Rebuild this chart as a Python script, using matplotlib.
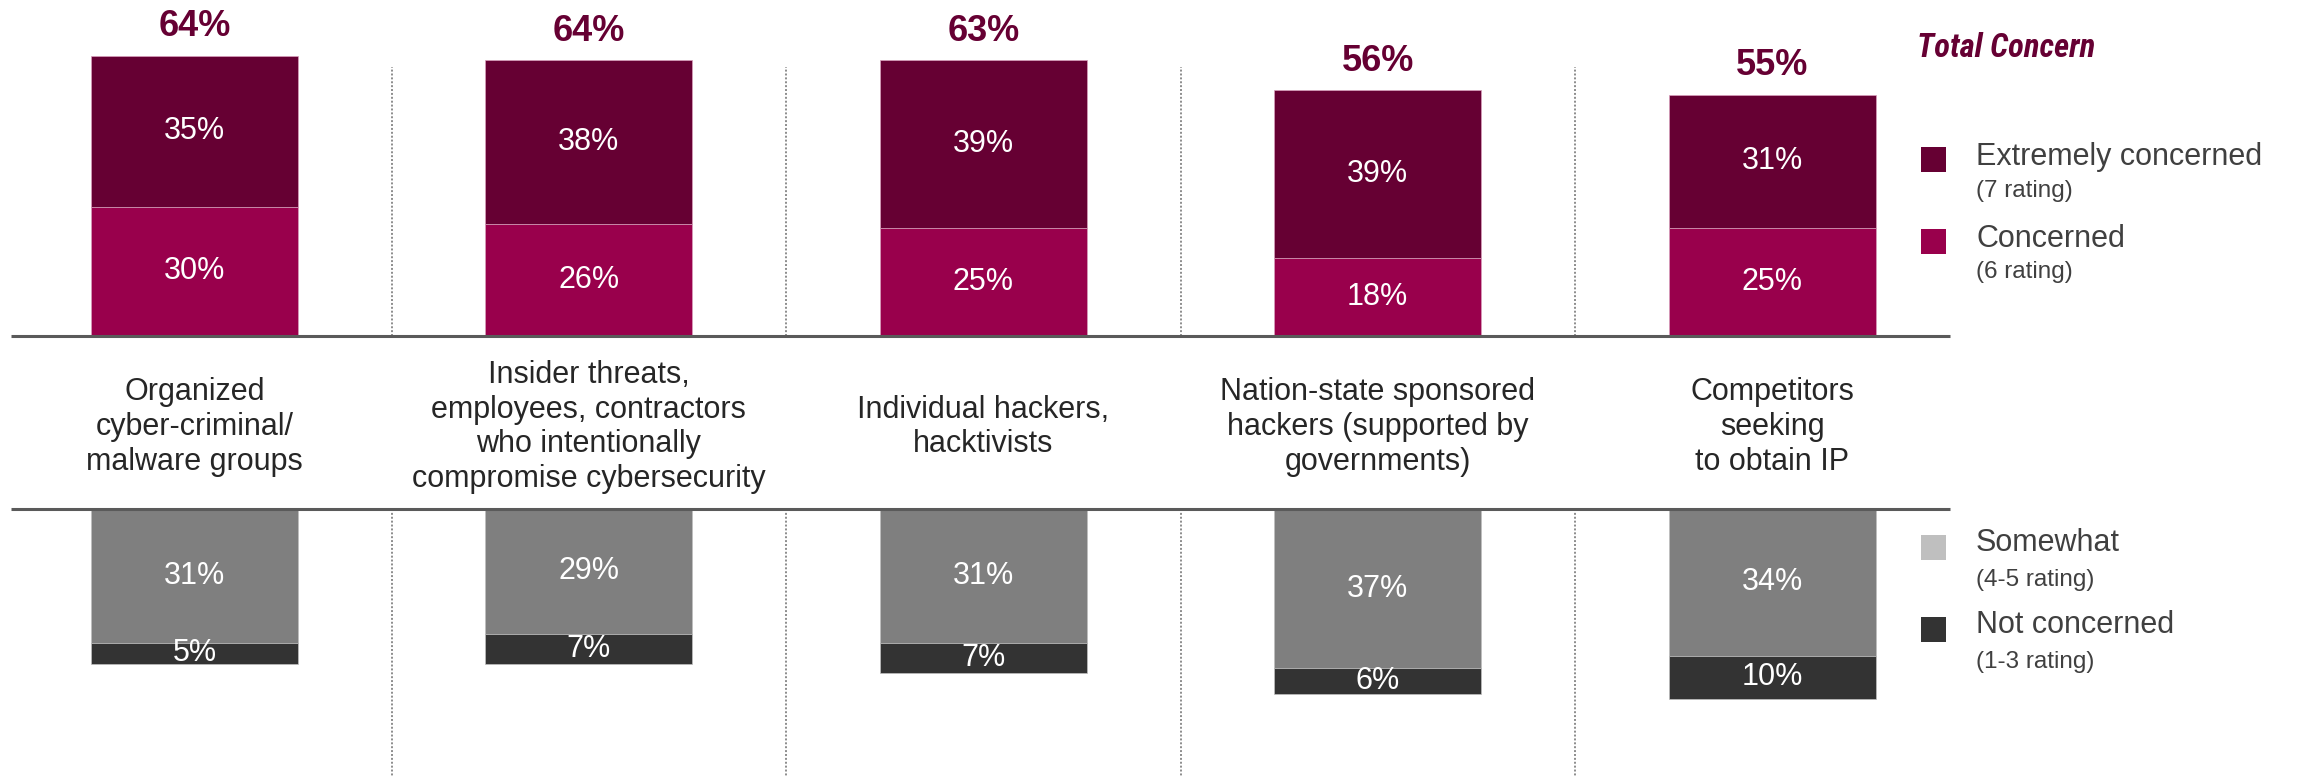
import matplotlib
matplotlib.use('Agg')
import matplotlib.pyplot as plt
import matplotlib.transforms as mtransforms
from matplotlib.patches import Rectangle

plt.rcParams['font.family'] = ['Liberation Sans', 'DejaVu Sans']

# data
categories = [
    'Organized\ncyber-criminal/\nmalware groups',
    'Insider threats,\nemployees, contractors\nwho intentionally\ncompromise cybersecurity',
    'Individual hackers,\nhacktivists',
    'Nation-state sponsored\nhackers (supported by\ngovernments)',
    'Competitors\nseeking\nto obtain IP',
]
extremely = [35, 38, 39, 39, 31]
concerned = [30, 26, 25, 18, 25]
total_concern = [64, 64, 63, 56, 55]
somewhat = [31, 29, 31, 37, 34]
not_concerned = [5, 7, 7, 6, 10]

C_EXT = '#660033'
C_CON = '#99004C'
C_SOME = '#7F7F7F'
C_NOT = '#333333'
C_SOME_LEG = '#BFBFBF'
C_LINE = '#5A5A5A'
C_SEP = '#8C8C8C'
C_TXT = '#262626'
C_LEG = '#404040'

W, H = 2299, 777
fig = plt.figure(figsize=(W / 100, H / 100), dpi=100)

k = 4.31          # pixels per percent point
x0_px = 194.5     # centre of first bar
step_px = 394.4   # distance between bars
top_base = 336    # upper baseline, px from top
bot_base = 509    # lower baseline, px from top

xlim = (-x0_px / step_px, (W - x0_px) / step_px)
bar_w = 207 / step_px

ax_top = fig.add_axes([0, (H - top_base) / H, 1, top_base / H])
ax_bot = fig.add_axes([0, 0, 1, (H - bot_base) / H])
ax_top.set_ylim(0, top_base / k)
ax_bot.set_ylim(-(H - bot_base) / k, 0)
for ax in (ax_top, ax_bot):
    ax.set_xlim(*xlim)
    ax.axis('off')

x = list(range(len(categories)))

# upper bars (concern)
ax_top.bar(x, concerned, width=bar_w, color=C_CON, edgecolor='#D9A0BC', linewidth=0.5)
ax_top.bar(x, extremely, width=bar_w, bottom=concerned, color=C_EXT, edgecolor='#D9A0BC', linewidth=0.5)

# lower bars
neg_some = [-v for v in somewhat]
neg_not = [-v for v in not_concerned]
ax_bot.bar(x, neg_some, width=bar_w, color=C_SOME, edgecolor='#BFBFBF', linewidth=0.5)
ax_bot.bar(x, neg_not, width=bar_w, bottom=neg_some, color=C_NOT, edgecolor='#BFBFBF', linewidth=0.5)

for i in x:
    ax_top.text(i, concerned[i] / 2, f'{concerned[i]}%', ha='center', va='center',
                color='white', fontsize=22)
    ax_top.text(i, concerned[i] + extremely[i] / 2, f'{extremely[i]}%', ha='center',
                va='center', color='white', fontsize=22)
    ax_top.annotate(f'{total_concern[i]}%', (i, concerned[i] + extremely[i]),
                    xytext=(0, 14), textcoords='offset points', ha='center',
                    va='baseline', color=C_EXT, fontsize=26, fontweight='bold')
    ax_bot.text(i, -somewhat[i] / 2, f'{somewhat[i]}%', ha='center', va='center',
                color='white', fontsize=22)
    ax_bot.text(i, -somewhat[i] - not_concerned[i] / 2, f'{not_concerned[i]}%',
                ha='center', va='center', color='white', fontsize=22)

# baselines
line_x = [(11 - x0_px) / step_px, (1950 - x0_px) / step_px]
ax_top.plot(line_x, [0, 0], color=C_LINE, lw=2.2, clip_on=False, solid_capstyle='butt')
ax_bot.plot(line_x, [0, 0], color=C_LINE, lw=2.2, clip_on=False, solid_capstyle='butt')

# dotted separators
sep_top = (H - 67 - (H - top_base)) / k
for i in range(len(categories) - 1):
    ax_top.plot([i + 0.5, i + 0.5], [0, sep_top], color=C_SEP, lw=1.4,
                linestyle=(0, (1, 1)), zorder=0)
    ax_bot.plot([i + 0.5, i + 0.5], [0, ax_bot.get_ylim()[0]], color=C_SEP, lw=1.4,
                linestyle=(0, (1, 1)), zorder=0)

# category labels between the two panels
trans = mtransforms.blended_transform_factory(ax_top.transData, fig.transFigure)
for i, lab in enumerate(categories):
    fig.text(i, (H - 427) / H, lab, transform=trans, ha='center', va='center',
             fontsize=22, color=C_TXT, linespacing=1.2, multialignment='center')


# legend, drawn by hand
def fx(px):
    return px / W


def fy(py):
    return (H - py) / H


fig.text(fx(1917), fy(48), 'Total Concern', ha='left', va='center', fontsize=23.5,
         fontweight='bold', fontstyle='italic', color=C_EXT,
         family=['Roboto Condensed', 'Liberation Sans Narrow', 'Liberation Sans'])

legend_items = [
    ('Extremely concerned', '(7 rating)', C_EXT, 147, 165, 197),
    ('Concerned', '(6 rating)', C_CON, 229, 247, 278),
    ('Somewhat', '(4-5 rating)', C_SOME_LEG, 535, 551, 586),
    ('Not concerned', '(1-3 rating)', C_NOT, 617, 633, 668),
]
for name, sub, col, sw_top, y1, y2 in legend_items:
    fig.add_artist(Rectangle((fx(1921), fy(sw_top + 25)), 25 / W, 25 / H,
                             transform=fig.transFigure, color=col, lw=0))
    fig.text(fx(1976), fy(y1), name, ha='left', va='baseline', fontsize=22, color=C_LEG)
    fig.text(fx(1976), fy(y2), sub, ha='left', va='baseline', fontsize=17.5, color=C_LEG)

fig.savefig('out.png', dpi=100, facecolor='white')
